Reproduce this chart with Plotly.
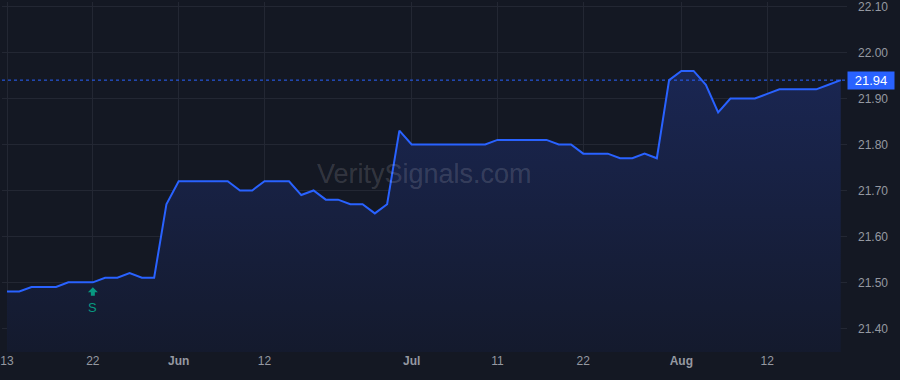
import plotly.graph_objects as go

# Trading days (2024) shown on the chart
dates = [
    "2024-05-13", "2024-05-14", "2024-05-15", "2024-05-16", "2024-05-17",
    "2024-05-20", "2024-05-21", "2024-05-22", "2024-05-23", "2024-05-24",
    "2024-05-28", "2024-05-29", "2024-05-30", "2024-05-31",
    "2024-06-03", "2024-06-04", "2024-06-05", "2024-06-06", "2024-06-07",
    "2024-06-10", "2024-06-11", "2024-06-12", "2024-06-13", "2024-06-14",
    "2024-06-17", "2024-06-18", "2024-06-20", "2024-06-21", "2024-06-24",
    "2024-06-25", "2024-06-26", "2024-06-27", "2024-06-28",
    "2024-07-01", "2024-07-02", "2024-07-03", "2024-07-05", "2024-07-08",
    "2024-07-09", "2024-07-10", "2024-07-11", "2024-07-12", "2024-07-15",
    "2024-07-16", "2024-07-17", "2024-07-18", "2024-07-19", "2024-07-22",
    "2024-07-23", "2024-07-24", "2024-07-25", "2024-07-26", "2024-07-29",
    "2024-07-30", "2024-07-31",
    "2024-08-01", "2024-08-02", "2024-08-05", "2024-08-06", "2024-08-07",
    "2024-08-08", "2024-08-09", "2024-08-12", "2024-08-13", "2024-08-14",
    "2024-08-15", "2024-08-16", "2024-08-19", "2024-08-20",
]

prices = [
    21.48, 21.48, 21.49, 21.49, 21.49, 21.50, 21.50, 21.50, 21.51, 21.51,
    21.52, 21.51, 21.51, 21.67,
    21.72, 21.72, 21.72, 21.72, 21.72, 21.70, 21.70, 21.72, 21.72, 21.72,
    21.69, 21.70, 21.68, 21.68, 21.67, 21.67, 21.65, 21.67, 21.83,
    21.80, 21.80, 21.80, 21.80, 21.80, 21.80, 21.80, 21.81, 21.81, 21.81,
    21.81, 21.81, 21.80, 21.80, 21.78, 21.78, 21.78, 21.77, 21.77, 21.78,
    21.77, 21.94,
    21.96, 21.96, 21.93, 21.87, 21.90, 21.90, 21.90, 21.91, 21.92, 21.92,
    21.92, 21.92, 21.93, 21.94,
]

tick_dates = ["2024-05-13", "2024-05-22", "2024-06-03", "2024-06-12",
              "2024-07-01", "2024-07-11", "2024-07-22", "2024-08-01", "2024-08-12"]
tick_labels = ["13", "22", "<b>Jun</b>", "12", "<b>Jul</b>", "11", "22", "<b>Aug</b>", "12"]

y_ticks = [21.40, 21.50, 21.60, 21.70, 21.80, 21.90, 22.00, 22.10]

signal_date = "2024-05-22"
signal_text = "S"
watermark = "VeritySignals.com"

BG = "#141823"
GRID = "#232733"
BLUE = "#2962ff"
TEAL = "#089981"
TXT = "#9598a1"
FONT = "Liberation Sans, Arial, sans-serif"

y_lo, y_hi = 21.3485, 22.110

fig = go.Figure()
fig.add_trace(go.Scatter(
    x=dates, y=prices, mode="lines",
    line=dict(color=BLUE, width=2),
    fill="tozeroy",
    fillgradient=dict(type="vertical", start=y_lo, stop=max(prices),
                      colorscale=[[0, "#141a2d"], [1, "#1a2652"]]),
    hoverinfo="skip", showlegend=False,
))

last = prices[-1]
fig.add_hline(y=last, line=dict(color=BLUE, width=1, dash="dot"))

# price label
fig.add_annotation(
    xref="paper", x=1, xanchor="left", y=last, yanchor="middle",
    text=f"{last:.2f}", showarrow=False,
    font=dict(color="white", size=13, family=FONT),
    bgcolor=BLUE, borderpad=2,
    width=42, height=13,
)

# signal marker: up-arrow drawn in pixel units under the signal point
si = dates.index(signal_date)
fig.add_shape(
    type="path", xref="x", yref="y",
    xsizemode="pixel", ysizemode="pixel",
    xanchor=si, yanchor=prices[si],
    path="M 0,-5 L 5,-10 L 2,-10 L 2,-13.5 L -2,-13.5 L -2,-10 L -5,-10 Z",
    fillcolor=TEAL, line=dict(width=0), layer="above",
)
fig.add_annotation(
    x=signal_date, y=prices[si], text=signal_text, showarrow=False,
    yshift=-25, font=dict(color=TEAL, size=13, family=FONT),
)

# watermark
fig.add_annotation(
    xref="paper", yref="paper", x=0.5, y=0.51, text=watermark,
    showarrow=False, font=dict(color="rgba(255,255,255,0.15)", size=27, family=FONT),
)

fig.update_layout(
    width=900, height=380,
    margin=dict(l=0, r=53, t=0, b=28),
    paper_bgcolor=BG, plot_bgcolor=BG,
    font=dict(family=FONT, color=TXT, size=12),
    xaxis=dict(
        type="category", range=[-0.41, 68.51],
        tickmode="array", tickvals=tick_dates, ticktext=tick_labels,
        showgrid=True, gridcolor=GRID, gridwidth=1,
        zeroline=False, showline=False, ticks="",
        tickfont=dict(color=TXT, size=12),
        ticklabeloverflow="allow",
        fixedrange=True,
    ),
    yaxis=dict(
        side="right", range=[y_lo, y_hi],
        tickmode="array", tickvals=y_ticks,
        ticktext=[f"{v:.2f}" for v in y_ticks],
        showgrid=True, gridcolor=GRID, gridwidth=1,
        zeroline=False, showline=False, ticks="",
        ticklabelstandoff=10,
        ticklabeloverflow="allow",
        tickfont=dict(color=TXT, size=12),
    ),
)

fig.write_html("out.html")
